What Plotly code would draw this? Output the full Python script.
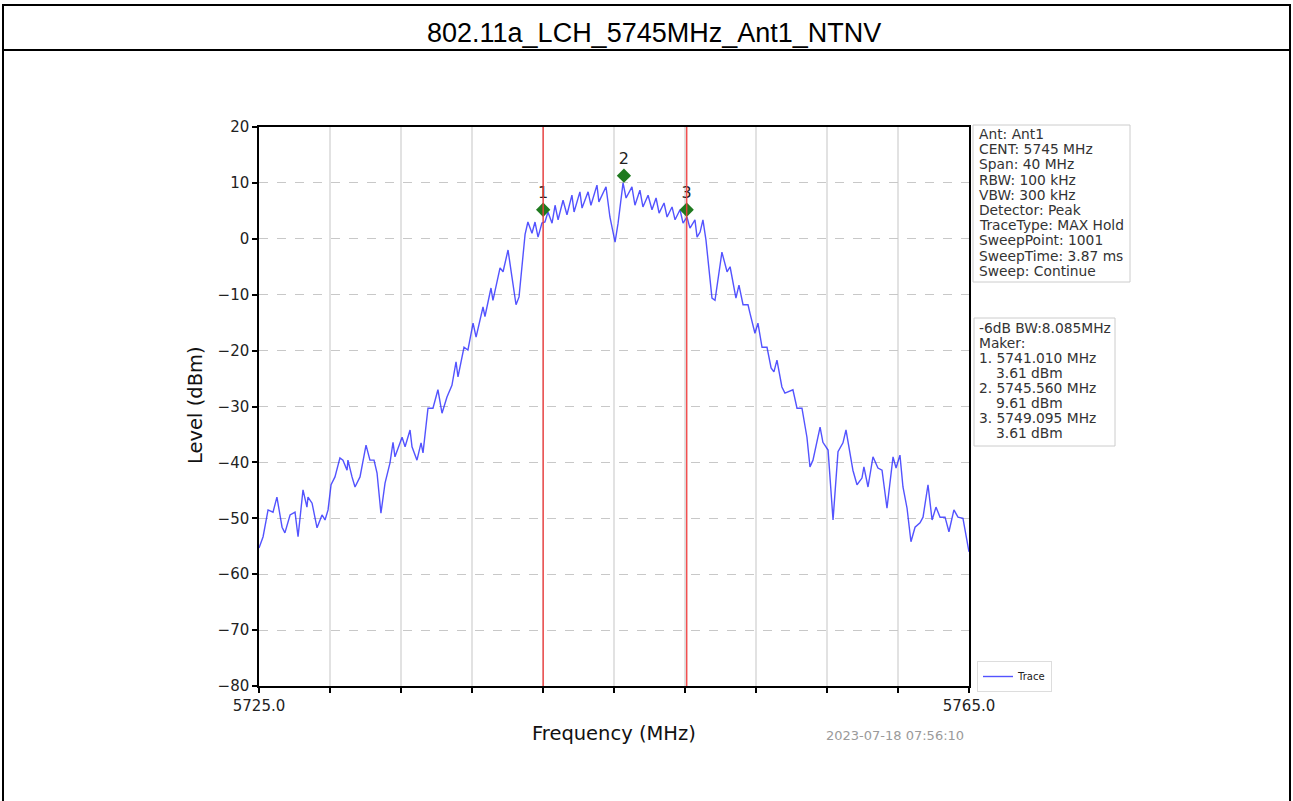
import plotly.graph_objects as go

# ---------------- data ----------------
freq_mhz = [
    5725.00, 5725.23, 5725.51, 5725.79, 5726.01, 5726.30, 5726.46, 5726.75, 5727.03, 5727.20,
    5727.48, 5727.70, 5727.76, 5727.99, 5728.27, 5728.55, 5728.72, 5728.89, 5729.06, 5729.28,
    5729.56, 5729.73, 5729.96, 5730.01, 5730.24, 5730.41, 5730.69, 5731.03, 5731.25, 5731.48,
    5731.65, 5731.87, 5732.10, 5732.38, 5732.55, 5732.66, 5733.06, 5733.23, 5733.51, 5733.62,
    5733.90, 5734.13, 5734.24, 5734.52, 5734.80, 5735.08, 5735.31, 5735.59, 5735.87, 5736.10,
    5736.21, 5736.55, 5736.77, 5737.06, 5737.23, 5737.62, 5737.73, 5738.07, 5738.18, 5738.58,
    5738.75, 5739.03, 5739.25, 5739.48, 5739.65, 5739.99, 5740.15, 5740.38, 5740.55, 5740.72,
    5740.94, 5741.11, 5741.28, 5741.51, 5741.68, 5741.85, 5742.13, 5742.35, 5742.63, 5742.75,
    5743.08, 5743.20, 5743.54, 5743.70, 5744.04, 5744.15, 5744.55, 5744.77, 5745.06, 5745.23,
    5745.51, 5745.68, 5746.01, 5746.18, 5746.46, 5746.63, 5746.92, 5747.14, 5747.37, 5747.54,
    5747.82, 5747.99, 5748.27, 5748.44, 5748.72, 5748.89, 5749.11, 5749.28, 5749.56, 5749.68,
    5749.85, 5750.01, 5750.18, 5750.30, 5750.52, 5750.69, 5751.08, 5751.37, 5751.54, 5751.87,
    5752.04, 5752.27, 5752.55, 5752.66, 5752.94, 5753.11, 5753.34, 5753.62, 5753.85, 5754.01,
    5754.18, 5754.46, 5754.63, 5755.08, 5755.31, 5755.59, 5755.87, 5756.04, 5756.21, 5756.61,
    5756.77, 5757.06, 5757.34, 5757.62, 5757.90, 5758.07, 5758.46, 5758.69, 5758.97, 5759.08,
    5759.31, 5759.59, 5759.87, 5760.10, 5760.38, 5760.72, 5760.89, 5761.11, 5761.28, 5761.51,
    5761.73, 5761.96, 5762.24, 5762.41, 5762.69, 5762.92, 5763.14, 5763.37, 5763.65, 5763.87,
    5764.15, 5764.38, 5764.66, 5765.00,
]
level_dbm = [
    -55.3, -53.3, -48.5, -48.9, -46.2, -51.6, -52.6, -49.4, -48.9, -53.3,
    -44.9, -48.0, -46.2, -47.3, -51.7, -49.4, -50.3, -48.5, -44.0, -42.6,
    -39.2, -39.6, -41.4, -39.6, -42.6, -44.4, -42.6, -36.9, -39.6, -39.6,
    -41.9, -49.1, -43.7, -40.1, -36.4, -39.0, -35.5, -37.2, -34.2, -37.2,
    -39.6, -36.5, -38.3, -30.3, -30.3, -27.0, -31.2, -28.3, -26.2, -22.0,
    -24.7, -19.4, -19.9, -15.1, -17.6, -12.2, -13.9, -8.8, -11.0, -5.2,
    -5.9, -2.0, -6.8, -11.8, -10.4, 0.8, 3.0, 1.0, 3.0, 0.3,
    2.8, 3.0, 4.8, 2.8, 6.0, 3.4, 6.9, 4.3, 7.8, 4.8,
    8.4, 5.5, 8.4, 6.0, 9.6, 6.6, 9.3, 3.9, -0.6, 2.8,
    10.0, 7.3, 9.3, 6.0, 8.7, 5.7, 7.8, 5.2, 7.3, 4.6,
    6.4, 3.9, 5.7, 3.4, 5.2, 2.8, 3.9, 1.9, 3.4, 0.3,
    1.2, 3.4, -0.2, -4.3, -10.6, -11.0, -2.4, -5.9, -5.0, -10.6,
    -8.3, -11.8, -11.8, -13.3, -16.9, -15.1, -19.4, -19.4, -23.1, -23.8,
    -21.7, -26.5, -27.6, -27.0, -30.3, -30.3, -35.5, -40.8, -39.6, -33.7,
    -36.4, -37.8, -50.3, -38.1, -36.5, -34.2, -41.4, -44.0, -42.8, -40.8,
    -44.4, -39.0, -41.0, -41.4, -48.2, -39.0, -41.0, -38.7, -44.4, -48.2,
    -54.2, -51.6, -50.8, -49.8, -44.0, -50.3, -48.0, -49.8, -49.8, -52.4,
    -48.5, -49.8, -50.0, -56.0,
]

marker_labels = ["1", "2", "3"]
marker_freq = [5741.010, 5745.560, 5749.095]
marker_plot_level = [5.2, 11.3, 5.2]
bw_line_freq = [5741.010, 5749.095]

x_tick_vals = [5725, 5729, 5733, 5737, 5741, 5745, 5749, 5753, 5757, 5761, 5765]
x_tick_text = ["5725.0", "", "", "", "", "", "", "", "", "", "5765.0"]
y_tick_vals = [20, 10, 0, -10, -20, -30, -40, -50, -60, -70, -80]

title_text = "802.11a_LCH_5745MHz_Ant1_NTNV"
x_title = "Frequency (MHz)"
y_title = "Level (dBm)"
timestamp = "2023-07-18 07:56:10"
info_lines = ["Ant: Ant1", "CENT: 5745 MHz", "Span: 40 MHz", "RBW: 100 kHz", "VBW: 300 kHz",
              "Detector: Peak", "TraceType: MAX Hold", "SweepPoint: 1001",
              "SweepTime: 3.87 ms", "Sweep: Continue"]
marker_info_lines = ["-6dB BW:8.085MHz", "Maker:", "1. 5741.010 MHz", "3.61 dBm",
                     "2. 5745.560 MHz", "9.61 dBm", "3. 5749.095 MHz", "3.61 dBm"]
marker_info_indent = [False, False, False, True, False, True, False, True]

# ---------------- layout helpers (pixel -> paper) ----------------
W, H = 1293, 801
L, R, T, B = 259, 969, 127, 686


def px(x):
    return (x - L) / (R - L)


def py(y):
    return (B - y) / (B - T)


FONT = "DejaVu Sans"

fig = go.Figure()

fig.add_trace(go.Scatter(
    x=freq_mhz, y=level_dbm, mode="lines", name="Trace",
    line=dict(color="rgba(40,40,255,0.8)", width=1.4),
    showlegend=True,
))

fig.add_trace(go.Scatter(
    x=marker_freq, y=marker_plot_level, mode="markers+text",
    text=marker_labels, textposition="top center",
    textfont=dict(family=FONT, size=16, color="#222222"),
    marker=dict(symbol="diamond", size=11, color="#1f7a1f"),
    showlegend=False,
))

shapes = []
for f in bw_line_freq:
    shapes.append(dict(type="line", xref="x", yref="paper", x0=f, x1=f, y0=0, y1=1,
                       line=dict(color="rgba(240,60,60,0.9)", width=1.5), layer="above"))

# outer table borders
bc = dict(color="black", width=2)
shapes += [
    dict(type="line", xref="paper", yref="paper", x0=px(3), x1=px(3), y0=py(4), y1=py(801), line=bc),
    dict(type="line", xref="paper", yref="paper", x0=px(1290), x1=px(1290), y0=py(4), y1=py(801), line=bc),
    dict(type="line", xref="paper", yref="paper", x0=px(3), x1=px(1290), y0=py(5), y1=py(5), line=bc),
    dict(type="line", xref="paper", yref="paper", x0=px(3), x1=px(1290), y0=py(50), y1=py(50), line=bc),
]
# info boxes
shapes += [
    dict(type="rect", xref="paper", yref="paper", x0=px(973), x1=px(1130), y0=py(125), y1=py(282),
         line=dict(color="#cccccc", width=1), fillcolor="white"),
    dict(type="rect", xref="paper", yref="paper", x0=px(974), x1=px(1115), y0=py(318), y1=py(446),
         line=dict(color="#cccccc", width=1), fillcolor="white"),
]

annotations = [
    dict(text=title_text, x=px(654), y=py(33), xref="paper", yref="paper",
         xanchor="center", yanchor="middle", showarrow=False,
         font=dict(family="Liberation Sans, Arial", size=27, color="black")),
    dict(text=x_title, x=px(614), y=py(734), xref="paper", yref="paper",
         xanchor="center", yanchor="middle", showarrow=False,
         font=dict(family=FONT, size=19.5, color="#111111")),
    dict(text=y_title, x=px(195), y=py(405), xref="paper", yref="paper",
         xanchor="center", yanchor="middle", showarrow=False, textangle=-90,
         font=dict(family=FONT, size=19.5, color="#111111")),
    dict(text=timestamp, x=px(895), y=py(735), xref="paper", yref="paper",
         xanchor="center", yanchor="middle", showarrow=False,
         font=dict(family=FONT, size=13, color="#9a9a9a")),
]
for i, s in enumerate(info_lines):
    annotations.append(dict(text=s, x=px(977), y=py(134 + i * 15.2), xref="paper", yref="paper",
                            xanchor="left", yanchor="middle", showarrow=False,
                            font=dict(family=FONT, size=13.8, color="#333333")))
for i, s in enumerate(marker_info_lines):
    x0 = 994 if marker_info_indent[i] else 977
    annotations.append(dict(text=s, x=px(x0), y=py(328 + i * 15), xref="paper", yref="paper",
                            xanchor="left", yanchor="middle", showarrow=False,
                            font=dict(family=FONT, size=13.8, color="#333333")))

fig.update_layout(
    width=W, height=H, autosize=False,
    margin=dict(l=L, r=W - R, t=T, b=H - B, pad=0),
    paper_bgcolor="white", plot_bgcolor="white",
    shapes=shapes, annotations=annotations,
    showlegend=True,
    legend=dict(x=px(977), y=py(661), xanchor="left", yanchor="top",
                bgcolor="white", bordercolor="#dddddd", borderwidth=1,
                font=dict(family=FONT, size=10, color="#222222"),
                itemwidth=30, tracegroupgap=0),
    font=dict(family=FONT, color="#222222"),
)

fig.update_xaxes(
    range=[5725, 5765], tickmode="array", tickvals=x_tick_vals, ticktext=x_tick_text,
    ticks="outside", ticklen=5, tickwidth=1.5, tickcolor="black",
    showline=True, linecolor="black", linewidth=1.5, mirror=True,
    showgrid=True, gridcolor="#e2e2e2", gridwidth=2, zeroline=False,
    tickfont=dict(family=FONT, size=15, color="#222222"),
)
fig.update_yaxes(
    range=[-80, 20], tickmode="array", tickvals=y_tick_vals,
    ticks="outside", ticklen=5, tickwidth=1.5, tickcolor="black",
    showline=True, linecolor="black", linewidth=1.5, mirror=True,
    showgrid=True, gridcolor="#c8c8c8", gridwidth=1, griddash="dash", zeroline=False,
    tickfont=dict(family=FONT, size=15, color="#222222"),
)

fig.write_html("out.html", config={"displayModeBar": False},
               post_script="document.body.style.margin='0';document.body.style.overflow='hidden';")
